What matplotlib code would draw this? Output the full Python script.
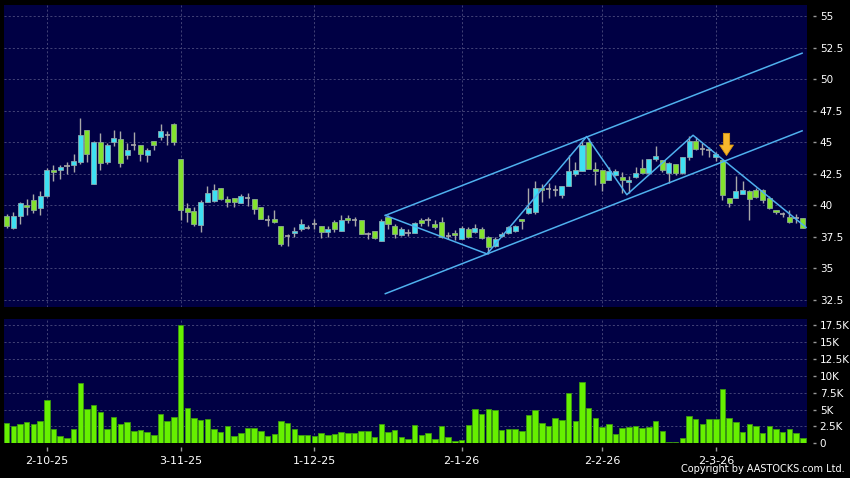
import matplotlib
matplotlib.use("Agg")
import matplotlib.pyplot as plt
import numpy as np

# OHLC, one entry per trading day (index 0..119)
opens = [39.18, 38.18, 39.13, 40.0, 40.42, 39.76, 40.76, 42.8, 42.8, 43.1,
         43.16, 43.45, 46.0, 41.68, 45.0, 43.45, 45.05, 45.24, 43.95, 44.8,
         44.74, 43.95, 45.13, 45.45, 45.6, 46.42, 43.7, 39.8, 39.55, 38.45,
         40.3, 40.37, 41.35, 40.5, 40.6, 40.2, 40.55, 40.5, 39.85, 38.85,
         38.9, 38.4, 37.55, 37.8, 38.13, 38.2, 38.55, 38.4, 37.85, 38.7,
         37.95, 39.0, 38.8, 38.87, 37.76, 37.95, 37.2, 39.1, 38.35, 37.65,
         37.8, 37.8, 38.8, 38.8, 38.55, 38.65, 37.6, 37.8, 37.35, 38.1,
         37.9, 38.15, 37.5, 36.75, 37.6, 37.8, 38.0, 38.9, 39.4, 39.5,
         41.37, 41.3, 41.25, 40.8, 41.5, 42.5, 42.7, 45.0, 42.85, 42.8,
         41.97, 42.4, 42.25, 41.87, 42.25, 42.95, 42.55, 43.7, 43.6, 42.55,
         43.25, 42.55, 43.85, 45.1, 44.5, 44.35, 43.85, 43.55, 40.55, 40.6,
         40.9, 41.15, 41.25, 41.25, 40.6, 39.6, 39.35, 39.1, 39.0, 39.0]
highs = [39.3, 39.45, 40.3, 40.5, 40.9, 41.1, 42.92, 43.2, 43.2, 43.45,
         44.1, 46.92, 46.0, 45.1, 45.75, 44.92, 46.0, 45.92, 44.9, 45.8,
         44.74, 44.53, 45.13, 46.45, 45.9, 46.5, 43.7, 40.2, 39.9, 40.45,
         41.5, 41.7, 41.35, 40.75, 40.6, 40.9, 41.0, 40.5, 39.85, 39.2,
         39.6, 38.4, 37.7, 38.3, 38.9, 38.45, 38.9, 38.4, 38.35, 38.85,
         39.2, 39.25, 39.1, 38.87, 37.87, 37.95, 38.9, 39.25, 38.5, 38.25,
         38.1, 38.65, 39.0, 39.1, 38.85, 39.1, 37.85, 38.05, 38.35, 38.3,
         38.5, 38.3, 37.6, 37.5, 37.9, 38.4, 38.45, 38.9, 41.35, 41.9,
         41.7, 41.8, 41.6, 41.5, 44.0, 43.4, 45.2, 45.3, 43.4, 42.8,
         43.0, 42.9, 42.6, 42.3, 43.0, 43.66, 43.7, 44.66, 43.6, 43.4,
         43.3, 43.85, 45.5, 45.4, 44.9, 44.6, 44.2, 43.6, 40.55, 42.3,
         41.9, 41.2, 41.4, 41.3, 40.7, 39.6, 39.5, 39.6, 39.3, 39.0]
lows = [38.2, 38.1, 38.5, 39.2, 39.4, 39.26, 40.66, 41.9, 42.1, 42.5,
        42.63, 43.3, 43.4, 41.68, 42.8, 43.3, 44.7, 43.05, 43.7, 44.4,
        43.5, 43.4, 44.4, 45.2, 44.75, 44.75, 38.85, 38.7, 38.4, 37.9,
        40.3, 40.3, 40.4, 39.9, 39.85, 40.2, 39.95, 39.3, 38.9, 38.4,
        38.6, 36.8, 36.8, 37.5, 38.0, 38.1, 38.1, 37.4, 37.5, 37.85,
        37.95, 38.6, 38.35, 37.7, 37.3, 37.3, 37.2, 38.1, 37.4, 37.55,
        37.6, 37.8, 38.35, 38.35, 38.1, 37.4, 37.35, 37.25, 37.3, 37.4,
        37.8, 37.3, 36.15, 36.7, 37.5, 37.7, 37.9, 38.1, 39.3, 39.3,
        40.3, 40.6, 40.7, 40.6, 41.5, 42.3, 42.7, 42.9, 41.6, 41.1,
        41.97, 42.3, 40.98, 41.0, 42.2, 42.55, 42.5, 43.5, 42.6, 41.76,
        42.4, 42.5, 43.6, 44.4, 44.0, 43.8, 43.5, 40.45, 39.9, 40.6,
        40.9, 38.87, 40.6, 40.2, 39.7, 39.3, 39.1, 38.6, 38.6, 38.2]
closes = [38.4, 39.13, 40.16, 39.85, 39.61, 40.74, 42.82, 42.6, 43.0, 43.1,
          43.5, 45.55, 44.1, 45.0, 43.34, 44.79, 45.32, 43.34, 44.39, 44.8,
          44.1, 44.37, 44.74, 45.87, 45.6, 45.03, 39.6, 39.5, 38.55, 40.25,
          40.95, 41.2, 40.5, 40.25, 40.25, 40.75, 40.55, 39.7, 38.95, 38.85,
          38.7, 36.97, 37.55, 38.0, 38.55, 38.2, 38.55, 37.9, 38.15, 38.13,
          38.8, 38.8, 38.8, 37.76, 37.76, 37.4, 38.75, 38.5, 37.75, 38.1,
          37.8, 38.6, 38.6, 38.8, 38.3, 37.5, 37.6, 37.65, 38.2, 37.5,
          38.2, 37.4, 36.7, 37.35, 37.75, 38.3, 38.35, 38.75, 39.8, 41.35,
          41.2, 41.3, 41.25, 41.5, 42.7, 42.8, 44.8, 42.9, 42.7, 41.75,
          42.7, 42.7, 41.97, 42.0, 42.55, 42.55, 43.7, 43.9, 42.8, 43.35,
          42.55, 43.85, 45.1, 44.5, 44.5, 44.35, 44.1, 40.8, 40.2, 41.15,
          41.2, 40.5, 40.65, 40.45, 39.8, 39.5, 39.35, 38.65, 39.0, 38.2]
volumes = [2960, 2560, 2860, 3100, 2900, 3250, 6400, 2070, 1130, 790,
           2120, 9000, 5080, 5670, 4630, 2120, 3940, 2810, 3100, 1870,
           1970, 1630, 1280, 4390, 3300, 3850, 17500, 5180, 3800, 3450,
           3650, 2120, 1730, 2560, 1130, 1480, 2270, 2220, 1870, 1080,
           1380, 3300, 3060, 2120, 1280, 1280, 1080, 1530, 1230, 1430,
           1680, 1530, 1480, 1780, 1780, 990, 2810, 1680, 1920, 890,
           690, 2660, 1230, 1530, 690, 2510, 940, 300, 540, 2710,
           5130, 4290, 5030, 4930, 1970, 2120, 2120, 1870, 4140, 4930,
           3060, 2510, 3800, 3450, 7500, 3300, 9070, 5180, 3800, 2470,
           2860, 1380, 2320, 2470, 2560, 2270, 2470, 3300, 1780, 150,
           150, 790, 4040, 3550, 2860, 3650, 3600, 7990, 3800, 3160,
           1680, 2860, 2560, 1480, 2560, 2170, 1630, 2120, 1480, 790]

tick_idx = [6, 26, 46, 68, 89, 106]
tick_labels = ["2-10-25", "3-11-25", "1-12-25", "2-1-26", "2-2-26", "2-3-26"]

price_ticks = [32.5, 35, 37.5, 40, 42.5, 45, 47.5, 50, 52.5, 55]
price_labels = ["32.5", "35", "37.5", "40", "42.5", "45", "47.5", "50", "52.5", "55"]
vol_ticks = [0, 2500, 5000, 7500, 10000, 12500, 15000, 17500]
vol_labels = ["0", "2.5K", "5K", "7.5K", "10K", "12.5K", "15K", "17.5K"]

# hand drawn trend lines (index, price)
upper_x, upper_y = [56.6, 118.9], [39.2, 52.05]
lower_x, lower_y = [56.6, 118.9], [33.0, 45.9]
zigzag_x = [56.6, 71.8, 86.7, 92.7, 102.6, 119.5]
zigzag_y = [39.2, 36.15, 45.45, 40.84, 45.55, 38.25]
arrow_x, arrow_tip, arrow_tail = 107.6, 43.95, 45.7

BG = "#000044"
GRID = "#4c4c7e"
UP = "#3ee0f2"
DOWN = "#82e22e"
WICK = "#a8a8a8"
LINE = "#4fb0ee"

plt.rcParams["font.family"] = ["DejaVu Sans"]

fig = plt.figure(figsize=(8.5, 4.78), dpi=100, facecolor="black")
ax = fig.add_axes([0.0047, 0.3584, 0.945, 0.6312])
axv = fig.add_axes([0.0047, 0.0726, 0.945, 0.260])

o = np.array(opens)
h = np.array(highs)
l = np.array(lows)
c = np.array(closes)
x = np.arange(len(o))

for a in (ax, axv):
    a.set_facecolor(BG)
    for s in a.spines.values():
        s.set_visible(False)
    a.set_xlim(-0.4, 119.67)
    a.yaxis.tick_right()
    a.spines["right"].set_position(("outward", 4))
    a.tick_params(axis="y", colors="#9a9a9a", labelcolor="white", length=2.5,
                  width=1, pad=2.5, labelsize=7.5)
    a.set_xticks(tick_idx)
    a.grid(True, color=GRID, linestyle=(0, (2.5, 2.5)), linewidth=0.6)
    a.set_axisbelow(True)

# candles
ax.vlines(x, l, h, color=WICK, linewidth=1, zorder=2)
doji = np.abs(c - o) < 0.03
up = (c > o) & ~doji
dn = (c < o) & ~doji
ax.bar(x[up], (c - o)[up], bottom=o[up], width=0.75, color=UP,
       edgecolor="#8aa8b0", linewidth=0.6, zorder=3)
ax.bar(x[dn], (o - c)[dn], bottom=c[dn], width=0.75, color=DOWN,
       edgecolor="#8aa890", linewidth=0.6, zorder=3)
ax.hlines(o[doji], x[doji] - 0.4, x[doji] + 0.4, color=WICK, linewidth=1.2, zorder=3)

# trend lines
ax.plot(upper_x, upper_y, color=LINE, lw=1.1, zorder=4)
ax.plot(lower_x, lower_y, color=LINE, lw=1.1, zorder=4)
ax.plot(zigzag_x, zigzag_y, color=LINE, lw=1.1, zorder=4)
ax.annotate("", xy=(arrow_x, arrow_tip), xytext=(arrow_x, arrow_tail),
            arrowprops=dict(arrowstyle="simple,head_width=1.0,head_length=0.75,tail_width=0.45",
                            mutation_scale=10, fc="#f7b82c", ec="#e09a10", lw=0.6,
                            shrinkA=0, shrinkB=0),
            zorder=5)

ax.set_ylim(31.97, 55.87)
ax.set_yticks(price_ticks)
ax.set_yticklabels(price_labels)
ax.tick_params(axis="x", bottom=False, labelbottom=False)

# volume
axv.bar(x, volumes, width=0.82, color="#66f000", edgecolor="#3c9a10", linewidth=0.6, zorder=3)
axv.set_ylim(0, 18430)
axv.set_yticks(vol_ticks)
axv.set_yticklabels(vol_labels)
axv.spines["bottom"].set_position(("outward", 3))
axv.set_xticklabels(tick_labels)
axv.tick_params(axis="x", colors="#9a9a9a", labelcolor="white", length=3,
                width=1, pad=3, labelsize=8)

fig.text(0.994, 0.008, "Copyright by AASTOCKS.com Ltd.", color="white",
         fontsize=7, ha="right", va="bottom")

fig.savefig("out.png", dpi=100, facecolor="black")
